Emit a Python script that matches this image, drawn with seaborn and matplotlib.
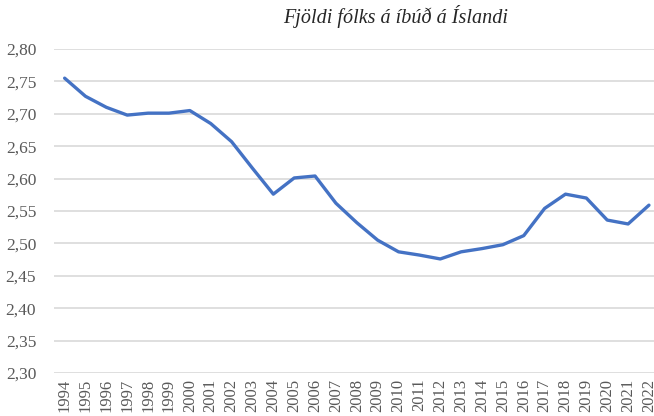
import matplotlib
matplotlib.use("Agg")
import matplotlib.pyplot as plt
import seaborn as sns
import pandas as pd

years = list(range(1994, 2023))
values = [2.755, 2.727, 2.710, 2.698, 2.701, 2.701, 2.705, 2.685, 2.657, 2.616,
          2.576, 2.601, 2.604, 2.562, 2.532, 2.505, 2.487, 2.482, 2.476, 2.487,
          2.492, 2.498, 2.512, 2.554, 2.576, 2.570, 2.536, 2.530, 2.559]
yticks = [2.30, 2.35, 2.40, 2.45, 2.50, 2.55, 2.60, 2.65, 2.70, 2.75, 2.80]
title = "Fjöldi fólks á íbúð á Íslandi"

df = pd.DataFrame({"year": years, "value": values})

sns.set_theme(style="white")
plt.rcParams["font.family"] = ["Liberation Serif", "DejaVu Serif"]

W, H = 654, 416
fig = plt.figure(figsize=(W / 100, H / 100), dpi=100)
left, right, top, bottom = 54.2, 659.4, 49, 373
ax = fig.add_axes([left / W, 1 - bottom / H, (right - left) / W, (bottom - top) / H])

sns.lineplot(data=df, x="year", y="value", ax=ax, color="#4472C4", linewidth=2.4, zorder=3)

ax.set_xlim(1993.5, 2022.5)
ax.set_ylim(2.30, 2.80)
ax.set_yticks(yticks)
ax.set_yticklabels([f"{v:.2f}".replace(".", ",") for v in yticks])
ax.set_xticks(years)
ax.set_xticklabels([str(y) for y in years], rotation=90)
ax.grid(axis="y", color="#d9d9d9", linewidth=1.2)
ax.grid(axis="x", visible=False)
for s in ax.spines.values():
    s.set_visible(False)
ax.tick_params(axis="y", length=0, labelsize=12.5, colors="#595959", pad=13)
ax.tick_params(axis="x", length=0, labelsize=12, colors="#595959", pad=4)
ax.set_xlabel("")
ax.set_ylabel("")

fig.text(396 / W, 1 - 17 / H, title, ha="center", va="center", fontsize=14.5,
         style="italic", color="#262626")

fig.savefig("out.png", dpi=100)
